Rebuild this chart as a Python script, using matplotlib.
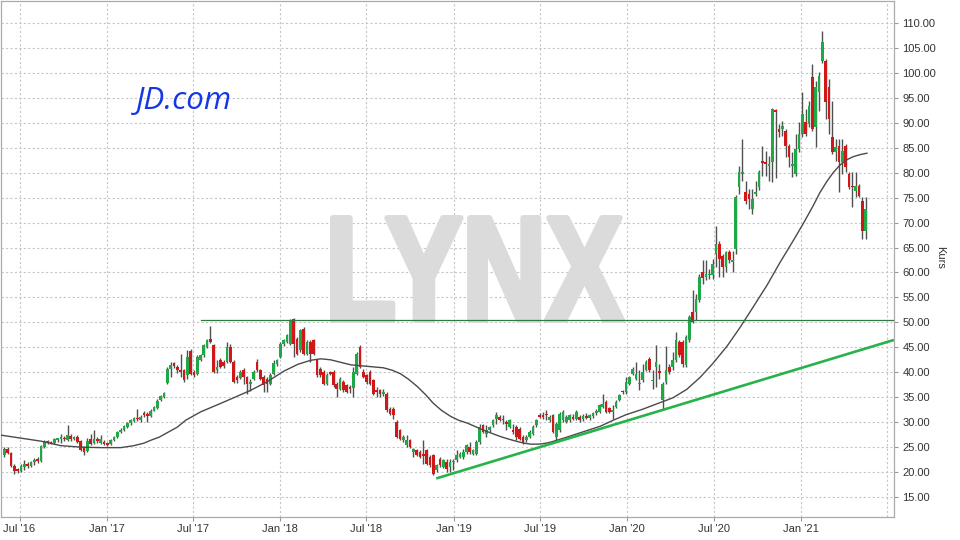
import matplotlib
matplotlib.use("Agg")
import matplotlib.pyplot as plt
import matplotlib.dates as mdates
from matplotlib.textpath import TextPath
from matplotlib.patches import PathPatch
from matplotlib.font_manager import FontProperties
from matplotlib.transforms import Affine2D
from matplotlib.ticker import FormatStrFormatter
import numpy as np
import pandas as pd

plt.rcParams['font.family'] = ['Liberation Sans', 'DejaVu Sans']

# ---------------- data (weekly candles, JD.com) ----------------
first_week = '2016-05-30'
opens = [23.4,24.7,23.8,21.3,20.5,20.3,21.0,21.6,21.2,22.0,22.6,22.2,25.0,26.2,26.1,25.8,26.5,26.7,26.9,26.4,
         27.3,26.7,27.1,26.2,25.0,24.3,26.6,25.9,26.7,25.9,26.0,25.8,25.6,26.4,27.1,28.0,28.5,29.1,29.8,30.3,
         30.9,30.5,31.8,31.6,31.3,32.3,32.8,34.4,35.1,37.9,40.6,41.8,41.1,40.4,40.4,39.4,44.3,40.1,39.7,42.4,
         43.4,45.1,46.7,45.4,40.4,42.4,42.1,42.1,45.1,42.1,39.1,38.9,40.4,39.1,37.7,38.7,42.1,40.4,39.1,38.7,
         37.7,39.6,41.7,43.1,45.7,46.1,45.7,50.7,46.7,44.4,48.7,43.7,46.1,46.4,42.4,40.7,40.1,37.7,40.1,40.1,
         37.7,36.7,38.1,37.4,37.1,36.9,39.7,45.1,40.1,39.4,40.1,38.4,36.4,36.4,35.7,35.7,32.7,32.7,30.1,28.4,
         26.4,25.4,26.4,24.1,24.4,24.1,23.6,24.4,23.1,23.4,20.4,22.7,21.1,22.1,21.1,22.0,22.4,23.1,23.1,24.1,
         25.1,23.7,23.7,26.1,29.4,27.7,28.4,29.4,30.7,31.1,30.7,29.9,29.1,28.4,29.1,28.7,27.1,26.4,27.1,27.7,
         29.4,31.4,31.4,31.6,30.4,31.4,27.1,28.4,30.4,30.1,30.4,31.1,30.7,31.1,30.6,31.2,30.9,31.2,31.8,32.1,
         33.1,34.1,32.8,32.1,33.1,34.4,36.2,36.1,37.7,39.7,38.7,37.6,38.4,40.4,42.7,38.3,41.1,40.1,34.4,38.1,
         41.1,41.1,42.4,46.1,46.1,41.4,46.4,52.1,52.1,54.4,60.1,59.1,59.4,59.4,63.7,65.7,63.4,61.1,64.1,62.1,
         64.7,77.1,79.8,76.1,75.7,72.7,75.8,77.1,82.3,82.1,81.4,82.1,92.6,88.7,88.7,88.4,85.4,81.4,79.7,84.7,
         87.7,90.1,89.7,99.1,89.1,96.1,102.4,102.4,97.1,87.1,84.1,85.4,82.1,85.4,79.7,77.4,76.4,77.4,74.4,68.4]
highs = [25.0,25.0,24.0,21.6,20.9,21.6,22.4,22.0,22.3,22.9,23.0,25.4,26.4,26.5,26.3,26.9,26.9,27.6,27.2,29.4,
         27.6,27.3,27.4,26.5,25.2,26.8,27.6,28.4,27.0,27.4,26.4,26.0,26.6,27.3,28.3,28.8,29.4,30.0,30.7,31.0,
         32.7,31.5,32.3,32.0,32.6,33.2,34.6,35.5,36.0,41.0,42.1,42.1,41.5,43.7,40.6,44.4,44.6,40.4,43.4,43.6,
         45.6,46.7,49.2,45.6,42.4,42.8,42.5,46.1,45.6,42.4,39.4,40.4,40.8,39.3,38.6,40.4,42.6,40.6,39.4,39.0,
         39.8,42.4,42.6,46.0,46.6,47.6,50.7,50.9,47.0,48.6,49.0,46.4,46.4,46.6,42.7,41.0,40.4,39.8,40.3,40.4,
         38.0,39.0,38.4,37.7,37.4,41.1,44.1,45.4,40.6,39.7,40.4,38.7,37.1,36.7,36.6,36.0,33.0,33.0,30.4,28.7,
         27.5,27.4,26.7,24.9,24.7,24.4,26.4,24.7,23.4,23.7,21.7,23.1,22.7,22.7,22.7,22.7,24.4,24.0,24.7,25.7,
         26.1,24.6,26.4,29.7,29.7,29.4,29.3,30.6,32.0,31.4,31.4,30.4,30.7,29.7,29.4,29.0,27.4,27.4,28.4,29.4,
         30.7,31.9,32.1,32.4,31.4,31.7,30.0,32.0,32.4,31.4,31.7,31.6,32.4,31.5,31.6,31.8,31.7,32.1,32.6,33.6,
         35.7,34.4,33.0,33.4,34.4,35.6,36.5,39.1,39.3,41.1,42.1,40.4,41.7,42.4,43.1,40.4,45.4,41.7,38.1,45.2,
         41.7,44.1,48.1,46.4,46.4,47.4,51.4,56.4,55.7,59.7,62.4,62.4,60.6,62.7,69.4,66.4,63.7,64.4,64.6,64.4,
         75.6,81.4,86.7,78.4,76.7,76.7,78.4,80.6,85.4,84.4,83.4,92.9,92.7,89.7,90.4,88.8,85.7,84.1,87.7,90.1,
         96.1,92.7,94.4,101.7,98.4,100.1,108.4,102.7,98.7,94.4,86.7,86.7,86.7,85.7,80.1,80.1,80.1,77.8,75.1,75.1]
lows = [23.0,23.6,21.0,19.6,19.8,20.0,20.4,20.9,21.0,21.4,21.8,22.0,24.8,25.6,25.6,25.6,26.0,25.8,26.2,26.2,
        26.3,26.4,25.8,24.3,23.4,24.0,25.4,25.6,25.8,25.6,25.4,25.2,25.5,26.2,26.9,27.8,28.2,28.9,29.5,30.0,
        30.2,30.1,31.0,30.0,31.1,32.2,32.6,34.2,34.9,37.6,39.1,40.9,39.9,39.1,38.0,38.7,39.4,39.0,39.4,42.2,
        43.1,44.9,45.8,39.8,39.8,40.8,40.9,41.8,41.8,37.8,37.9,38.6,37.7,35.7,36.2,38.4,40.1,38.5,36.1,36.1,
        37.4,39.4,41.3,42.8,45.3,45.9,45.5,43.0,43.5,44.0,43.4,43.4,42.0,43.4,39.1,39.1,37.4,37.5,39.4,37.1,
        35.1,36.4,36.1,35.8,35.8,35.1,39.4,40.8,38.8,37.7,37.4,35.4,35.1,35.1,35.3,32.1,31.4,30.7,26.9,26.4,
        26.1,25.1,24.9,23.1,23.2,22.9,21.7,21.5,21.1,19.4,20.1,21.1,20.8,20.1,20.1,20.4,22.1,22.8,22.7,23.7,
        23.7,23.4,23.4,25.7,27.8,27.1,28.1,29.1,29.7,30.2,29.7,28.4,28.8,27.7,26.4,26.4,25.7,26.1,26.8,27.4,
        29.1,30.8,30.7,30.4,30.1,27.8,26.4,28.1,30.1,29.8,30.1,30.4,30.4,30.1,30.2,30.6,30.5,30.9,31.4,31.9,
        32.9,31.9,31.8,30.7,32.9,34.2,35.7,35.7,37.5,39.4,38.4,36.4,38.1,40.2,40.0,36.7,37.1,38.7,32.4,37.7,
        39.7,40.4,42.1,43.1,41.1,41.1,46.1,49.9,50.4,54.1,57.6,58.4,58.7,58.7,61.1,59.1,59.1,60.1,61.8,60.1,
        63.7,75.7,78.4,73.7,72.7,71.7,75.4,76.6,79.4,79.4,78.4,78.1,79.0,87.1,87.4,83.1,81.1,79.1,79.4,84.1,
        87.1,87.4,89.1,88.4,85.1,92.4,102.0,90.7,87.7,83.8,82.4,76.1,79.7,80.1,76.7,73.1,75.1,75.1,66.7,66.7]
closes = [24.7,23.8,21.3,20.2,20.3,21.3,21.6,21.2,22.0,22.5,22.2,25.2,26.1,25.9,25.8,26.6,26.7,27.1,26.6,27.4,
          26.6,27.0,26.0,24.5,24.1,26.3,25.7,26.7,26.2,26.6,25.6,25.5,26.4,27.1,28.0,28.5,29.2,29.8,30.4,30.8,
          30.6,31.1,31.4,31.3,32.3,33.0,34.3,35.3,35.8,40.7,41.4,41.2,40.4,40.0,38.4,43.1,39.7,39.4,43.1,43.4,
          45.4,46.5,46.1,40.1,41.1,41.1,41.2,45.1,42.1,38.1,38.4,40.1,39.1,37.7,38.1,40.1,40.4,38.7,37.4,37.7,
          39.4,41.8,42.4,45.7,46.4,47.4,50.5,45.7,43.7,48.4,43.7,46.1,43.7,43.7,39.4,39.4,37.7,39.5,39.7,37.4,
          36.7,38.7,36.4,36.1,36.6,40.1,43.7,41.1,39.1,38.1,37.7,35.7,36.1,35.7,36.1,32.4,31.7,31.4,27.1,26.7,
          27.1,26.4,25.1,24.7,23.4,23.1,23.3,21.7,21.4,19.7,21.4,21.4,22.4,20.7,22.1,22.2,23.4,23.7,24.1,25.4,
          24.1,24.4,26.1,29.1,28.1,28.4,29.1,30.4,31.4,30.4,30.4,29.7,30.4,28.1,27.1,26.7,26.1,27.1,28.1,29.1,
          30.4,31.1,31.1,31.4,31.1,28.1,29.7,31.7,32.1,31.1,31.4,30.7,32.1,30.4,31.2,30.9,31.4,31.8,32.3,33.4,
          33.7,32.1,32.1,32.4,34.1,35.4,36.0,38.1,39.1,40.7,39.7,37.9,40.1,42.1,40.4,38.5,42.1,40.0,37.7,40.4,
          40.1,42.4,46.4,43.4,41.7,47.1,51.1,50.1,54.7,59.1,58.9,59.6,59.7,61.7,65.7,62.7,61.1,64.1,62.4,62.4,
          75.1,80.1,80.1,74.4,74.7,74.7,76.1,80.1,81.9,81.7,81.7,92.7,92.2,88.1,89.4,85.4,83.1,81.7,84.7,87.7,
          91.7,87.7,93.4,88.7,97.1,99.4,106.1,94.1,90.7,84.1,85.1,82.1,84.4,81.1,77.1,77.1,77.4,75.4,68.4,72.7]

# moving average line
ma_dates = ['2016-05-23','2016-07-04','2016-08-15','2016-09-26','2016-11-07','2016-12-19','2017-01-30',
            '2017-02-27','2017-03-20','2017-04-04','2017-04-21','2017-05-10','2017-05-29','2017-06-16',
            '2017-07-18','2017-08-22','2017-09-25','2017-10-31','2017-12-06','2018-01-08','2018-02-07',
            '2018-03-06','2018-03-27','2018-04-17','2018-05-08','2018-05-29','2018-07-02','2018-08-06',
            '2018-08-25','2018-09-11','2018-09-28','2018-10-17','2018-11-03','2018-11-19','2018-12-06',
            '2018-12-25','2019-01-11','2019-01-30','2019-02-16','2019-03-05','2019-03-24','2019-04-10',
            '2019-04-27','2019-05-16','2019-05-29','2019-06-12','2019-06-27','2019-07-09','2019-07-24',
            '2019-08-07','2019-08-24','2019-09-25','2019-11-06','2019-12-03','2019-12-30','2020-02-03',
            '2020-03-10','2020-04-07','2020-05-06','2020-06-03','2020-06-30','2020-07-30','2020-08-26',
            '2020-09-22','2020-10-22','2020-11-18','2020-12-16','2021-01-06','2021-01-27','2021-02-10',
            '2021-02-25','2021-03-10','2021-03-24','2021-04-08','2021-04-21','2021-05-05','2021-05-20']
ma_values = [27.4,26.8,26.2,25.3,25.0,24.9,24.9,
             25.3,25.8,26.4,27.0,28.0,29.0,30.4,
             32.1,33.5,34.9,36.4,38.2,40.2,41.6,
             42.4,42.7,42.5,42.0,41.5,41.2,40.9,
             40.4,39.7,38.6,37.1,35.5,33.8,32.4,
             31.2,30.4,29.8,29.1,28.4,27.7,27.1,
             26.6,26.1,25.8,25.6,25.6,25.7,26.0,
             26.4,26.9,27.9,29.2,30.4,31.5,32.6,
             33.9,34.9,36.6,39.0,41.8,45.3,49.0,
             53.0,57.5,62.0,66.4,69.8,73.4,76.0,
             78.3,80.0,81.5,82.6,83.2,83.6,83.9]

# support / resistance lines
resist_dates = ['2017-07-18', '2021-07-16']
resist_values = [50.5, 50.5]
trend_dates = ['2018-11-28', '2021-07-13']
trend_values = [18.8, 46.4]

xtick_dates = ['2016-07-01','2017-01-01','2017-07-01','2018-01-01','2018-07-01',
               '2019-01-01','2019-07-01','2020-01-01','2020-07-01','2021-01-01']
xtick_labels = ["Jul '16","Jan '17","Jul '17","Jan '18","Jul '18",
                "Jan '19","Jul '19","Jan '20","Jul '20","Jan '21"]
ytick_values = list(range(15, 115, 5))

# ---------------- figure ----------------
W, H = 960, 540
fig = plt.figure(figsize=(9.6, 5.4), dpi=100)
ax = fig.add_axes([1 / W, 23 / H, 893 / W, 516 / H])

grid_kw = dict(color='#c6c6c6', linestyle=(0, (2, 2)), linewidth=0.8)
ax.set_axisbelow(True)
ax.grid(True, **grid_kw)
ax.axvline(mdates.date2num(pd.Timestamp('2021-07-01')), zorder=0.5, **grid_kw)

# watermark (thick, slightly condensed letters)
fp = FontProperties(family='Liberation Sans', weight='bold')
tp = TextPath((0, 0), 'LYNX', size=100, prop=fp)
bb = tp.get_extents()
stroke_px = 6.0
bx0, bx1 = 330 + stroke_px / 2, 625 - stroke_px / 2
by_top, by_bot = 215 + stroke_px / 2, 323 - stroke_px / 2
tr = (Affine2D().translate(-bb.x0, -bb.y0)
      .scale((bx1 - bx0) / bb.width, (by_bot - by_top) / bb.height)
      .translate(bx0, H - by_bot).scale(1 / W, 1 / H))
wm = PathPatch(tr.transform_path(tp), transform=fig.transFigure,
               facecolor='#dbdbdb', edgecolor='#dbdbdb', linewidth=stroke_px * 0.72,
               joinstyle='round', zorder=0.8)
ax.add_artist(wm)

# candles
dates = mdates.date2num(pd.date_range(first_week, periods=len(closes), freq='7D'))
o = np.array(opens); h = np.array(highs); l = np.array(lows); c = np.array(closes)
up = c >= o
green, red = '#1fa845', '#d01818'
cols = np.where(up, green, red)
ax.vlines(dates, l, h, colors='#505050', linewidth=1.0, zorder=2)
body = np.abs(c - o)
bh = np.maximum(body, 0.3)
bottom = np.minimum(o, c) - (bh - body) / 2
ax.bar(dates, bh, bottom=bottom, width=5.6, color=cols, linewidth=0, zorder=3)

# moving average
ax.plot(mdates.date2num(pd.to_datetime(ma_dates)), ma_values, color='#4a4a4a', lw=1.0, zorder=4)
# lines
ax.plot(mdates.date2num(pd.to_datetime(resist_dates)), resist_values, color='#2f7a43', lw=0.9, zorder=4)
ax.plot(mdates.date2num(pd.to_datetime(trend_dates)), trend_values, color='#27b24a', lw=1.9, zorder=4)

# axes
ax.set_xlim(mdates.date2num(pd.Timestamp('2016-05-23')), mdates.date2num(pd.Timestamp('2021-07-16')))
ax.set_ylim(11.0, 114.4)
ax.set_xticks(mdates.date2num(pd.to_datetime(xtick_dates)))
ax.set_xticklabels(xtick_labels)
ax.yaxis.tick_right()
ax.set_yticks(ytick_values)
ax.yaxis.set_major_formatter(FormatStrFormatter('%.2f'))
ax.tick_params(axis='both', colors='#999999', labelcolor='#333333', labelsize=8,
               length=3, width=0.8, pad=2)
ax.tick_params(axis='y', pad=3)
for s in ax.spines.values():
    s.set_color('#aaaaaa')
    s.set_linewidth(0.9)

fig.text(940 / W, 1 - 257 / H, 'Kurs', rotation=270, fontsize=8, color='#333333',
         ha='center', va='center')
fig.text(136 / W, 1 - 101 / H, 'JD.com', fontsize=22.5, style='italic', color='#1438e8',
         family=['Open Sans', 'DejaVu Sans'], ha='left', va='center')

fig.savefig('out.png', dpi=100)
